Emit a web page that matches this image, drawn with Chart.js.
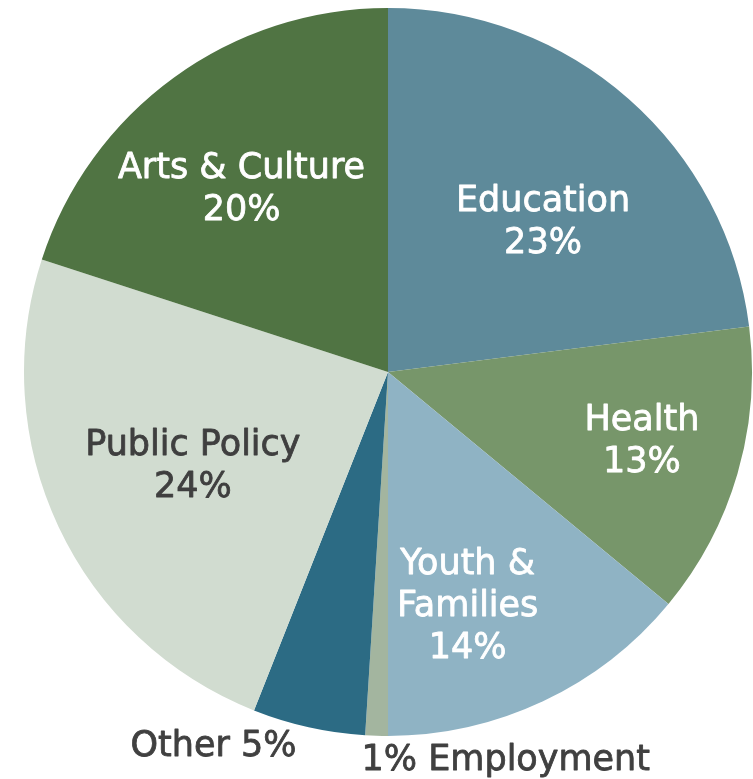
<!DOCTYPE html>
<html>
<head>
<meta charset="utf-8">
<script src="https://cdn.jsdelivr.net/npm/chart.js@4/dist/chart.umd.min.js"></script>
<style>
html,body{margin:0;padding:0;background:#fff;}
#wrap{width:753px;height:779px;position:relative;}
</style>
</head>
<body>
<div id="wrap"><canvas id="c" width="753" height="779"></canvas></div>
<script>
const categories = ["Education", "Health", "Youth & Families", "Employment", "Other", "Public Policy", "Arts & Culture"];
const values = [23, 13, 14, 1, 5, 24, 20];
const colors = ["#5e8a9a", "#77966a", "#8fb3c4", "#a3b59f", "#2c6b84", "#d1dcd0", "#507443"];
const labelLines = [
  ["Education", "23%"],
  ["Health", "13%"],
  ["Youth &", "Families", "14%"],
  ["1% Employment"],
  ["Other 5%"],
  ["Public Policy", "24%"],
  ["Arts & Culture", "20%"]
];

// label placement (style only): inside labels by radius fraction & absolute angle deg from top;
// outside labels anchored at arc edge mid-angle with offsets.
const labelStyle = [
  {mode:"in", rf:0.593, ang:45.9, color:"#ffffff"},
  {mode:"in", rf:0.723, ang:105.2, color:"#ffffff"},
  {mode:"in", rf:0.679, ang:161.2, color:"#ffffff"},
  {mode:"out", dx:-15, dy:24, align:"left", color:"#404040"},
  {mode:"out", dx:-12, dy:19, align:"right", color:"#404040"},
  {mode:"in", rf:0.595, ang:244.3, color:"#3f3f3f"},
  {mode:"in", rf:0.645, ang:321.4, color:"#ffffff"}
];

const FONT = '35px "DejaVu Sans", Verdana, sans-serif';
const LINE_H = 42;

const labelPlugin = {
  id: "sliceLabels",
  afterDatasetsDraw(chart) {
    const ctx = chart.ctx;
    const meta = chart.getDatasetMeta(0);
    ctx.save();
    ctx.font = FONT;
    ctx.textBaseline = "middle";
    ctx.lineJoin = "round";
    meta.data.forEach((arc, i) => {
      const st = labelStyle[i];
      const lines = labelLines[i];
      let x, y;
      if (st.mode === "in") {
        const a = st.ang * Math.PI / 180;
        const r = arc.outerRadius * st.rf;
        x = arc.x + r * Math.sin(a);
        y = arc.y - r * Math.cos(a);
        ctx.textAlign = "center";
      } else {
        const mid = (arc.startAngle + arc.endAngle) / 2;
        x = arc.x + arc.outerRadius * Math.cos(mid) + st.dx;
        y = arc.y + arc.outerRadius * Math.sin(mid) + st.dy;
        ctx.textAlign = st.align;
      }
      ctx.fillStyle = st.color;
      ctx.strokeStyle = st.color;
      ctx.lineWidth = 0.8;
      const n = lines.length;
      lines.forEach((t, k) => {
        const yy = y + (k - (n - 1) / 2) * LINE_H + 1;
        ctx.fillText(t, x, yy);
        ctx.strokeText(t, x, yy);
      });
    });
    ctx.restore();
  }
};

new Chart(document.getElementById("c"), {
  type: "pie",
  data: {
    labels: categories,
    datasets: [{
      data: values,
      backgroundColor: colors,
      borderWidth: 0,
      hoverOffset: 0
    }]
  },
  options: {
    responsive: false,
    animation: false,
    devicePixelRatio: 1,
    layout: { padding: { left: 24, right: 1, top: 8, bottom: 43 } },
    plugins: {
      legend: { display: false },
      tooltip: { enabled: false }
    }
  },
  plugins: [labelPlugin]
});
</script>
</body>
</html>
